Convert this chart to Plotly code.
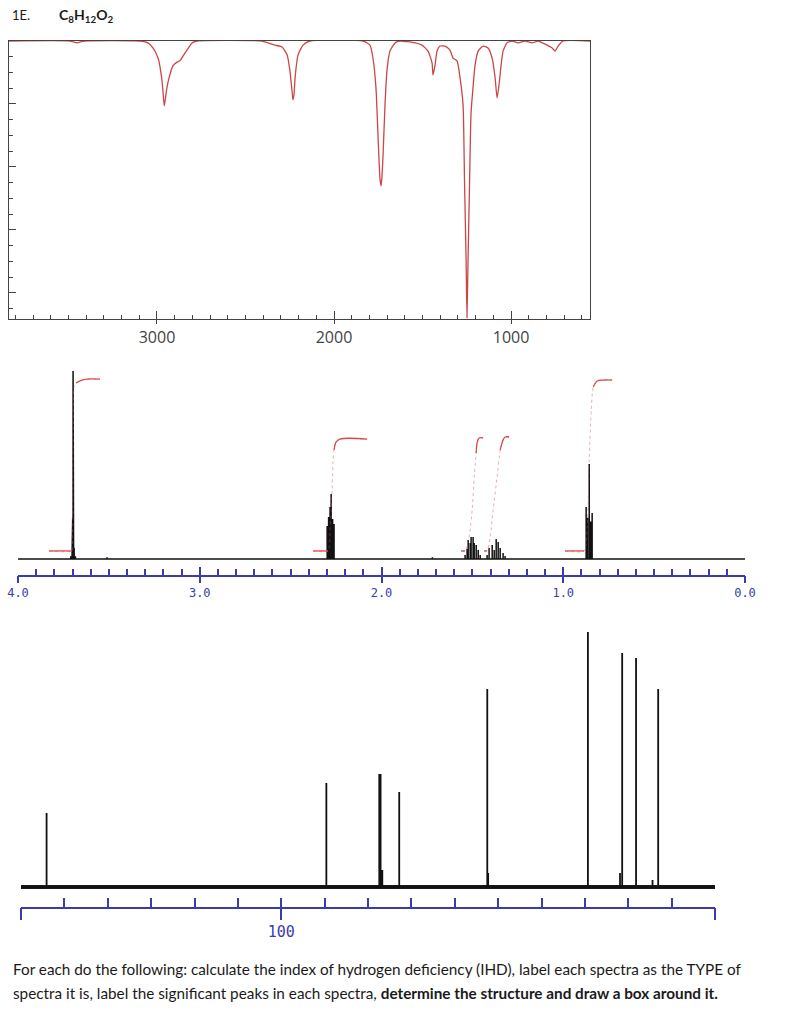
import plotly.graph_objects as go

# ---------------- DATA ----------------
# IR spectrum (wavenumber cm-1, %T)
IR_WN = [3836, 3492, 3452, 3412, 3096, 3051, 3023, 2994, 2972, 2966, 2959, 2952, 2944, 2932,
         2910, 2887, 2870, 2853, 2831, 2802, 2774, 2407, 2373, 2333, 2294, 2265, 2249, 2237,
         2232, 2226, 2220, 2203, 2175, 2136, 1836, 1797, 1780, 1763, 1751, 1740, 1734, 1729,
         1723, 1712, 1701, 1684, 1655, 1627, 1542, 1503, 1469, 1446, 1441, 1429, 1418, 1401,
         1373, 1345, 1328, 1305, 1288, 1271, 1263, 1254, 1249, 1243, 1234, 1226, 1215, 1203,
         1186, 1158, 1130, 1107, 1090, 1079, 1068, 1056, 1045, 1023, 994, 960, 921, 881, 847,
         797, 768, 751, 734, 706, 554]
IR_T = [100, 100, 99.4, 100, 100, 99.4, 97.8, 94.6, 87.6, 83.8, 79.4, 81.9, 85.1, 88.3,
        92.1, 93.3, 93.7, 95.2, 97.1, 99.4, 100, 100, 99.4, 98.7, 98.1, 95.6, 90.5, 84.0,
        81.3, 83.0, 88.3, 95.6, 98.7, 100, 100, 98.7, 94.6, 85.1, 69.2, 56.0, 54.0, 57.0,
        63.8, 79.7, 90.5, 96.8, 99.4, 100, 99.4, 98.7, 96.8, 93.0, 89.2, 92.4, 96.8, 98.4,
        98.4, 97.1, 94.6, 93.7, 88.3, 79.7, 56.0, 30.5, 12.1, 30.5, 56.0, 77.1, 85.1, 92.4,
        96.8, 98.4, 97.8, 94.6, 88.3, 81.9, 86.0, 92.4, 96.8, 99.4, 100, 99.4, 100, 99.4, 100,
        98.7, 97.8, 96.8, 98.4, 100, 100]
IR_TICKVALS = [3000, 2000, 1000]
IR_TICKTEXT = ["3000", "2000", "1000"]

# 1H NMR lines (ppm, relative intensity)
H_PPM = [3.710, 3.703, 3.700, 3.699, 3.697, 3.694, 3.691, 3.684,
         3.51,
         2.299, 2.291, 2.283, 2.277, 2.269, 2.261,
         1.72,
         1.540, 1.529, 1.523, 1.512, 1.507, 1.496, 1.490, 1.479, 1.468, 1.457,
         1.419, 1.408, 1.391, 1.380, 1.369, 1.358, 1.347, 1.331, 1.320,
         0.874, 0.866, 0.857, 0.849, 0.841]
H_INT = [1.5, 6, 12, 22, 100, 12, 6, 1.5,
         1,
         17.6, 22.3, 27.7, 34.6, 21.3, 18.6,
         1,
         2.1, 5.3, 10.1, 8.5, 11.7, 11.7, 8.5, 7.4, 4.8, 2.1,
         2.1, 5.9, 7.4, 4.8, 10.6, 9.0, 5.9, 3.2, 1.6,
         27.7, 22.0, 50.5, 20.0, 24.5]
H_BASELINE = [4.0, 0.0]
H_TICKVALS = [4, 3, 2, 1, 0]
H_TICKTEXT = ["4.0", "3.0", "2.0", "1.0", "0.0"]

# integral curves (ppm, level)
INT1_PPM = [3.829, 3.703, 3.700, 3.697, 3.695, 3.692, 3.681, 3.648, 3.620, 3.549]
INT1_VAL = [4.3, 4.3, 10.1, 47.3, 84.6, 91.5, 93.6, 95.2, 95.7, 95.7]
INT2_PPM = [2.376, 2.294, 2.283, 2.272, 2.266, 2.261, 2.250, 2.228, 2.079]
INT2_VAL = [4.3, 4.3, 15.4, 36.7, 52.7, 58.0, 62.2, 63.8, 63.8]
INT3_PPM = [1.562, 1.540, 1.518, 1.501, 1.490, 1.479, 1.474, 1.463, 1.441]
INT3_VAL = [4.3, 4.3, 11.7, 26.1, 43.6, 56.4, 61.7, 64.4, 64.4]
INT4_PPM = [1.435, 1.419, 1.402, 1.386, 1.364, 1.347, 1.331, 1.320, 1.298]
INT4_VAL = [4.3, 4.3, 11.7, 26.1, 43.6, 58.0, 63.3, 64.9, 64.9]
INT5_PPM = [0.990, 0.885, 0.868, 0.857, 0.846, 0.835, 0.813, 0.780, 0.731]
INT5_VAL = [4.3, 4.3, 17.0, 52.7, 79.3, 91.5, 94.7, 95.2, 95.2]

# 13C NMR lines (ppm, relative intensity)
C_PPM = [154.1, 89.6, 77.4, 77.1, 76.7, 72.8, 52.5, 52.3, 29.3, 21.9, 21.4, 18.2, 14.4, 13.1]
C_INT = [29.0, 40.8, 44.3, 44.3, 6.7, 37.3, 77.6, 5.5, 100, 5.5, 91.8, 89.8, 2.7, 77.6]
C_BASELINE = [160, 0]
C_TICKVALS = [100]
C_TICKTEXT = ["100"]
C_MAJOR = [160, 100, 0]

# ---------------- FIGURE ----------------
W, H = 795, 1024
def fx(v):
    return v / W
def fy(v):
    return 1 - v / H

BLUE = "#3a3cae"
IRRED = "#cc4646"
INTRED = "#d64b4b"

def stick_trace(ppm, inten, base):
    pairs = sorted(zip(ppm, inten), key=lambda p: -p[0])
    xs, ys = [base[0]], [0]
    for p, h in pairs:
        xs += [p, p, p]
        ys += [0, h, 0]
    xs.append(base[1]); ys.append(0)
    return xs, ys

fig = go.Figure()

# IR
fig.add_trace(go.Scatter(x=IR_WN, y=IR_T, mode="lines",
                         line=dict(color=IRRED, width=1.3, shape="spline", smoothing=0.5),
                         xaxis="x", yaxis="y", hoverinfo="skip"))
fig.add_trace(go.Scatter(x=[], y=[], xaxis="x6", yaxis="y", hoverinfo="skip"))

# 1H NMR
hx, hy = stick_trace(H_PPM, H_INT, H_BASELINE)
fig.add_trace(go.Scatter(x=hx, y=hy, mode="lines", line=dict(color="#111", width=1.5),
                         xaxis="x2", yaxis="y2", hoverinfo="skip"))
for ip, iv in [(INT1_PPM, INT1_VAL), (INT2_PPM, INT2_VAL), (INT3_PPM, INT3_VAL),
               (INT4_PPM, INT4_VAL), (INT5_PPM, INT5_VAL)]:
    fig.add_trace(go.Scatter(x=ip, y=iv, mode="lines",
                             line=dict(color="rgba(214,75,75,0.45)", width=1, dash="dot",
                                       shape="spline", smoothing=0.6),
                             xaxis="x2", yaxis="y2", hoverinfo="skip"))
    fig.add_trace(go.Scatter(x=ip[:2], y=iv[:2], mode="lines",
                             line=dict(color=INTRED, width=1.3),
                             xaxis="x2", yaxis="y2", hoverinfo="skip"))
    fig.add_trace(go.Scatter(x=ip[-4:], y=iv[-4:], mode="lines",
                             line=dict(color=INTRED, width=1.3, shape="spline"),
                             xaxis="x2", yaxis="y2", hoverinfo="skip"))
fig.add_trace(go.Scatter(x=[], y=[], xaxis="x3", yaxis="y2", hoverinfo="skip"))

# 13C NMR
fig.add_trace(go.Scatter(x=C_BASELINE, y=[0, 0], mode="lines", line=dict(color="#1a1a1a", width=4),
                         xaxis="x4", yaxis="y4", hoverinfo="skip"))
cx, cy = stick_trace(C_PPM, C_INT, C_BASELINE)
fig.add_trace(go.Scatter(x=cx, y=cy, mode="lines", line=dict(color="#111", width=1.8),
                         xaxis="x4", yaxis="y4", hoverinfo="skip"))
fig.add_trace(go.Scatter(x=[], y=[], xaxis="x5", yaxis="y4", hoverinfo="skip"))

common = dict(showgrid=False, zeroline=False, automargin=False)
fig.update_layout(
    width=W, height=H, margin=dict(l=0, r=0, t=0, b=0, autoexpand=False),
    paper_bgcolor="white", plot_bgcolor="rgba(0,0,0,0)", showlegend=False,
    xaxis=dict(domain=[fx(9), fx(590)], range=[3836, 554], anchor="y",
               showline=True, linecolor="#444", linewidth=1, mirror=True,
               ticks="inside", tickcolor="#444", ticklen=8, tickwidth=1,
               tickmode="array", tickvals=IR_TICKVALS, ticktext=IR_TICKTEXT,
               minor=dict(tickmode="linear", tick0=0, dtick=100, ticks="inside",
                          ticklen=4, tickcolor="#444"),
               tickfont=dict(family="Open Sans", size=16, color="#444"),
               ticklabelstandoff=4, **common),
    xaxis6=dict(overlaying="x", anchor="y", range=[3836, 554], side="bottom",
                ticks="outside", tickcolor="#444", ticklen=4, tickwidth=1,
                tickmode="array", tickvals=IR_TICKVALS, showticklabels=False,
                showline=False, **common),
    yaxis=dict(domain=[fy(319), fy(41)], range=[11.7, 100], anchor="x",
               showline=True, linecolor="#444", linewidth=1, mirror=True,
               ticks="inside", tickcolor="#444", ticklen=7, tick0=0, dtick=20,
               minor=dict(tick0=0, dtick=5, ticks="inside", ticklen=4, tickcolor="#444"),
               showticklabels=False, **common),
    xaxis2=dict(domain=[fx(18), fx(745)], range=[4.0, 0.0], anchor="y2",
                showline=True, linecolor=BLUE, linewidth=1.5,
                ticks="inside", tickcolor=BLUE, ticklen=8, tickwidth=1.5,
                tickmode="array", tickvals=H_TICKVALS, ticktext=H_TICKTEXT,
                minor=dict(tickmode="linear", tick0=0, dtick=0.1, ticks="inside",
                           ticklen=6, tickwidth=1.5, tickcolor=BLUE),
                tickfont=dict(family="DejaVu Sans Mono", size=12, color=BLUE),
                ticklabelstandoff=6, **common),
    xaxis3=dict(overlaying="x2", anchor="y2", range=[4.0, 0.0], side="bottom",
                ticks="outside", tickcolor=BLUE, ticklen=7, tickwidth=1.5,
                tickmode="array", tickvals=H_TICKVALS, showticklabels=False,
                showline=False, **common),
    yaxis2=dict(domain=[fy(575), fy(365)], range=[-8.5, 103.2], anchor="x2",
                visible=False, **common),
    xaxis4=dict(domain=[fx(21), fx(715)], range=[160, 0], anchor="y4",
                showline=True, linecolor=BLUE, linewidth=1.5,
                ticks="inside", tickcolor=BLUE, ticklen=9, tickwidth=1.5,
                tickmode="array", tickvals=C_TICKVALS, ticktext=C_TICKTEXT,
                minor=dict(tickmode="linear", tick0=0, dtick=10, ticks="inside",
                           ticklen=9, tickwidth=1.5, tickcolor=BLUE),
                tickfont=dict(family="DejaVu Sans Mono", size=15, color=BLUE),
                ticklabelstandoff=10, **common),
    xaxis5=dict(overlaying="x4", anchor="y4", range=[160, 0], side="bottom",
                ticks="outside", tickcolor=BLUE, ticklen=12, tickwidth=1.5,
                tickmode="array", tickvals=C_MAJOR, showticklabels=False,
                showline=False, **common),
    yaxis4=dict(domain=[fy(907), fy(620)], range=[-7.84, 104.7], anchor="x4",
                visible=False, **common),
)

TXT = dict(family="Lato", color="#1a1a1a")
fig.add_annotation(text="1E.", x=fx(10), y=fy(15), xref="paper", yref="paper",
                   xanchor="left", yanchor="middle", showarrow=False, align="left",
                   font=dict(size=13, **TXT))
fig.add_annotation(text="<b>C<sub>8</sub>H<sub>12</sub>O<sub>2</sub></b>", x=fx(57), y=fy(15),
                   xref="paper", yref="paper", xanchor="left", yanchor="middle",
                   showarrow=False, align="left", font=dict(size=14, **TXT))
fig.add_annotation(text="For each do the following: calculate the index of hydrogen deficiency (IHD), "
                        "label each spectra as the TYPE of",
                   x=fx(11), y=fy(969), xref="paper", yref="paper", xanchor="left",
                   yanchor="middle", showarrow=False, align="left", font=dict(size=15.3, **TXT))
fig.add_annotation(text="spectra it is, label the significant peaks in each spectra, "
                        "<b>determine the structure and draw a box around it.</b>",
                   x=fx(11), y=fy(993), xref="paper", yref="paper", xanchor="left",
                   yanchor="middle", showarrow=False, align="left", font=dict(size=15.3, **TXT))

fig.write_html("out.html", config={"displayModeBar": False},
               post_script="document.body.style.margin='0';document.body.style.overflow='hidden';")
